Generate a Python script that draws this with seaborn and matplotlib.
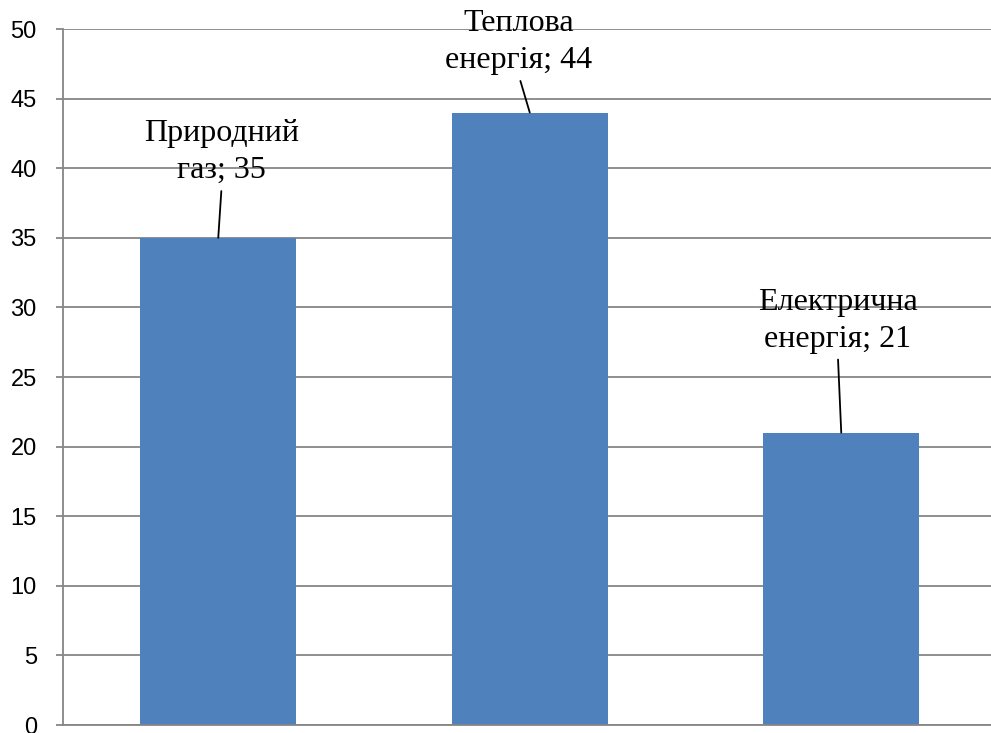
import matplotlib
matplotlib.use("Agg")
import matplotlib.pyplot as plt
import seaborn as sns
import pandas as pd

# Energy resource shares
categories = ["Природний газ", "Теплова енергія", "Електрична енергія"]
values = [35, 44, 21]
label_texts = ["Природний\nгаз; 35", "Теплова\nенергія; 44", "Електрична\nенергія; 21"]
y_ticks = [0, 5, 10, 15, 20, 25, 30, 35, 40, 45, 50]

sns.set_theme(style="white")
plt.rcParams["font.family"] = ["Liberation Sans", "DejaVu Sans"]

df = pd.DataFrame({"category": categories, "value": values})

fig = plt.figure(figsize=(9.91, 7.33), dpi=100)
ax = fig.add_axes([62.5 / 991, 8 / 733, 934.5 / 991, 696 / 733])

grid_color = "#868686"
ax.set_axisbelow(True)
ax.yaxis.grid(True, color=grid_color, linewidth=1.3)
ax.xaxis.grid(False)

sns.barplot(data=df, x="category", y="value", color="#4F81BD",
            saturation=1, width=0.5, linewidth=0, ax=ax, zorder=2)

ax.set_xlim(-0.5, 2.5)
ax.set_ylim(0, 50)
ax.set_yticks(y_ticks)
ax.set_xticks([])
ax.set_xlabel("")
ax.set_ylabel("")
ax.tick_params(axis="y", which="major", direction="out", length=5,
               width=1.3, color=grid_color, labelsize=17, pad=13.5,
               labelcolor="black", left=True)

for side in ["top", "right"]:
    ax.spines[side].set_visible(False)
for side in ["left", "bottom"]:
    ax.spines[side].set_color(grid_color)
    ax.spines[side].set_linewidth(1.3)

# Data labels with leader lines
offsets = [(2.5, 38), (-8, 27), (-2.5, 57)]
for i, (txt, val, off) in enumerate(zip(label_texts, values, offsets)):
    ax.annotate(txt, xy=(i, val), xytext=off, textcoords="offset points",
                ha="center", va="bottom", fontsize=23,
                family=["Liberation Serif", "DejaVu Serif"],
                linespacing=1.35, color="black",
                arrowprops=dict(arrowstyle="-", color="black", lw=1.3,
                                relpos=(0.5, 0), shrinkA=2, shrinkB=0),
                annotation_clip=False, zorder=3)

fig.savefig("out.png", dpi=100)
